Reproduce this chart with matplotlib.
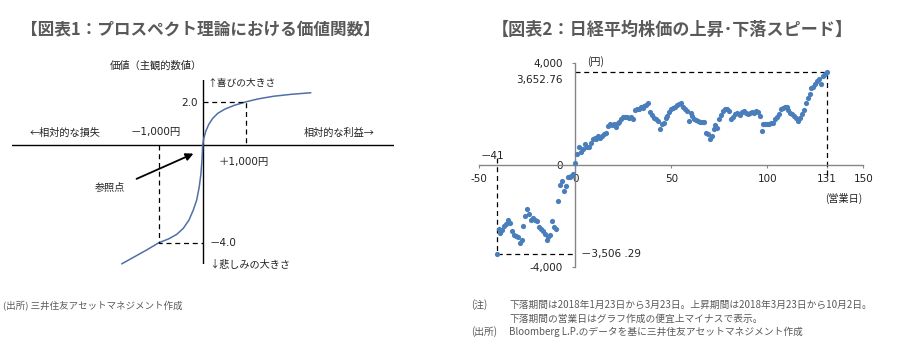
import matplotlib.pyplot as plt
import numpy as np

JP = ['Noto Sans CJK JP', 'DejaVu Sans']
NUM = ['DejaVu Sans', 'Noto Sans CJK JP']
GREY = '#595959'
BLUE = '#4a7ebb'

# --- 図表1: prospect theory value function (x: 1,000円 units) ---
gain_x = [0, 0.023, 0.069, 0.139, 0.231, 0.346, 0.508, 0.716, 1.0, 1.27, 1.62, 2.03, 2.47]
gain_v = [0, 0.30, 0.64, 0.96, 1.24, 1.47, 1.66, 1.83, 2.0, 2.13, 2.25, 2.34, 2.41]
loss_x = [0, -0.016, -0.039, -0.078, -0.137, -0.215, -0.313, -0.443, -0.594, -0.785,
          -1.0, -1.28, -1.58, -1.85]
loss_v = [0, -0.60, -1.15, -1.70, -2.25, -2.66, -3.07, -3.41, -3.66, -3.85,
          -4.0, -4.30, -4.60, -4.87]
ref_gain = (1.0, 2.0)
ref_loss = (-1.0, -4.0)

# --- 図表2: Nikkei 225 fall / rise (円, relative to start) ---
fall_days = list(range(-41, 0))
fall_vals = [-3506.29, -2510, -2680, -2570, -2390, -2310, -2180, -2300, -2610, -2745,
             -2800, -2840, -3080, -2940, -2390, -2020, -1730, -1910, -2180, -2090,
             -2150, -2220, -2420, -2500, -2610, -2700, -2940, -2840, -2750, -2220,
             -2440, -2510, -1430, -800, -630, -1030, -830, -460, -460, -450, -370]
rise_days = list(range(0, 132))
rise_vals = [60, 420, 720, 512, 617, 814, 722, 722, 880, 1011,
             1077, 1037, 1142, 1077, 1142, 1208, 1274, 1536, 1602, 1560,
             1602, 1510, 1641, 1694, 1825, 1904, 1880, 1904, 1864, 1904,
             1825, 2167, 2219, 2190, 2298, 2258, 2320, 2350, 2429, 2088,
             1950, 1864, 1825, 1733, 1432, 1600, 1668, 1864, 1930, 2088,
             2219, 2260, 2298, 2350, 2400, 2429, 2298, 2219, 2127, 1733,
             2036, 1930, 1799, 1760, 1733, 1694, 1700, 1694, 1274, 1208,
             1011, 1142, 1432, 1563, 1470, 1800, 1957, 2127, 2193, 2193,
             2127, 1825, 1900, 1996, 2062, 2000, 1957, 2080, 2127, 2036,
             1996, 2050, 2088, 2062, 2127, 2100, 1930, 1340, 1602, 1602,
             1602, 1629, 1650, 1668, 1799, 1891, 1996, 2193, 2258, 2270,
             2285, 2154, 2062, 2000, 1930, 1838, 1733, 1864, 2022, 2154,
             2456, 2650, 2810, 3047, 3087, 3205, 3310, 3376, 3205, 3507,
             3560, 3652.76]
fall_low = (-41, -3506.29)
rise_high = (131, 3652.76)
x_ticks = [-50, 0, 50, 100, 131, 150]
y_ticks = [-4000, 0, 4000]
y_labels = ['-4,000', '0', '4,000']

W, H = 897, 356
fig = plt.figure(figsize=(W / 100, H / 100), dpi=100)


def fx(x):
    return x / W


def fy(y):
    return 1 - y / H


def txt(x, y, s, ha='left', size=7.3, family=JP, color='#222222', **kw):
    fig.text(fx(x), fy(y), s, ha=ha, va='center', fontsize=size,
             family=family, color=color, **kw)


# titles
txt(200, 30, '【図表1：プロスペクト理論における価値関数】', ha='center', size=12,
    color=GREY, fontweight='bold')
txt(672, 30, '【図表2：日経平均株価の上昇･下落スピード】', ha='center', size=12.3,
    color=GREY, fontweight='bold')

# ---------- left panel ----------
ax1 = fig.add_axes([fx(12), fy(264), (394 - 12) / W, (264 - 80) / H])
ax1.axis('off')


def fwd(y):
    y = np.asarray(y, dtype=float)
    return np.where(y >= 0, y * 21.8, y * 24.35)


def inv(p):
    p = np.asarray(p, dtype=float)
    return np.where(p >= 0, p / 21.8, p / 24.35)


ax1.set_yscale('function', functions=(fwd, inv))
ax1.set_xlim(-4.354, 4.368)
ax1.set_ylim(-4.875, 2.995)
ax1.axhline(0, color='black', lw=1)
ax1.axvline(0, color='black', lw=1)
ax1.plot(gain_x, gain_v, color='#4f6fa8', lw=1.1, solid_capstyle='round')
ax1.plot(loss_x, loss_v, color='#4f6fa8', lw=1.1, solid_capstyle='round', clip_on=False)
gx, gv = ref_gain
lx, lv = ref_loss
ax1.plot([0, gx, gx], [gv, gv, 0], color='black', lw=0.9, dashes=(4, 3))
ax1.plot([lx, lx, 0], [0, lv, lv], color='black', lw=0.9, dashes=(4, 3))

txt(156, 66, '価値（主観的数値）', ha='center', size=7.4)
txt(207, 83, '↑喜びの大きさ', size=7)
txt(198, 103, '2.0', ha='right', size=7.5, family=NUM)
txt(30, 133, '←相対的な損失', size=7.3)
txt(131, 132, '－1,000円', size=7.5, family=NUM)
txt(304, 133, '相対的な利益→', size=7.3)
txt(219, 161.5, '＋1,000円', size=7.5, family=NUM)
txt(95, 188, '参照点', size=7.3)
txt(210, 243.5, '－4.0', size=7.5, family=NUM)
txt(209, 265, '↓悲しみの大きさ', size=7.3)
fig.add_artist(plt.matplotlib.patches.FancyArrowPatch(
    (fx(134), fy(180)), (fx(196), fy(152.5)), transform=fig.transFigure,
    arrowstyle='-|>', mutation_scale=11, color='black', lw=1.3))

txt(3, 306.5, '(出所) 三井住友アセットマネジメント作成', size=6.8, color=GREY)

# ---------- right panel ----------
ax2 = fig.add_axes([fx(479.3), fy(266.7), (863.3 - 479.3) / W, (266.7 - 63.3) / H])
ax2.set_xlim(-50, 150)
ax2.set_ylim(-4000, 4000)
for s in ['top', 'right']:
    ax2.spines[s].set_visible(False)
ax2.spines['left'].set_position(('data', 0))
ax2.spines['bottom'].set_position(('data', 0))
for s in ['left', 'bottom']:
    ax2.spines[s].set_color('#868686')
    ax2.spines[s].set_linewidth(1)
ax2.set_xticks(x_ticks)
ax2.set_xticklabels([str(t) for t in x_ticks])
ax2.set_yticks(y_ticks)
ax2.set_yticklabels(y_labels)
ax2.tick_params(axis='x', direction='out', length=2.5, pad=4, color='#868686',
                labelsize=7.5, labelcolor='#222222')
ax2.tick_params(axis='y', direction='out', length=2, pad=7, color='#868686',
                labelsize=7.5, labelcolor='#222222')
ax2.patch.set_alpha(0)

hx, hv = rise_high
ax2.plot([0, hx, hx], [hv, hv, -390], color='black', lw=0.9, dashes=(4, 3), zorder=2)
fx0, fv0 = fall_low
ax2.plot([fx0, fx0, 0], [290, fv0, fv0], color='black', lw=0.9, dashes=(4, 3), zorder=2)
ax2.scatter(fall_days, fall_vals, s=14, color=BLUE, zorder=3, clip_on=False, linewidths=0)
ax2.scatter(rise_days, rise_vals, s=14, color=BLUE, zorder=3, clip_on=False, linewidths=0)

txt(563, 80, '3,652.76', ha='right', size=7.5, family=NUM)
txt(587, 61.5, '(円)', size=7.3)
txt(481, 156, '－41', size=7.5, family=NUM)
txt(581, 253.5, '－3,506 .29', size=7.5, family=NUM)
txt(825, 198.5, '(営業日)', size=7.3)

txt(471, 305, '(注)', size=7, color=GREY)
txt(509, 305, '下落期間は2018年1月23日から3月23日。上昇期間は2018年3月23日から10月2日。',
    size=7, color=GREY)
txt(509, 318.5, '下落期間の営業日はグラフ作成の便宜上マイナスで表示。', size=7, color=GREY)
txt(471, 331.5, '(出所)', size=7, color=GREY)
txt(509, 331.5, 'Bloomberg L.P.のデータを基に三井住友アセットマネジメント作成', size=7,
    color=GREY)

fig.savefig('out.png', dpi=100)
